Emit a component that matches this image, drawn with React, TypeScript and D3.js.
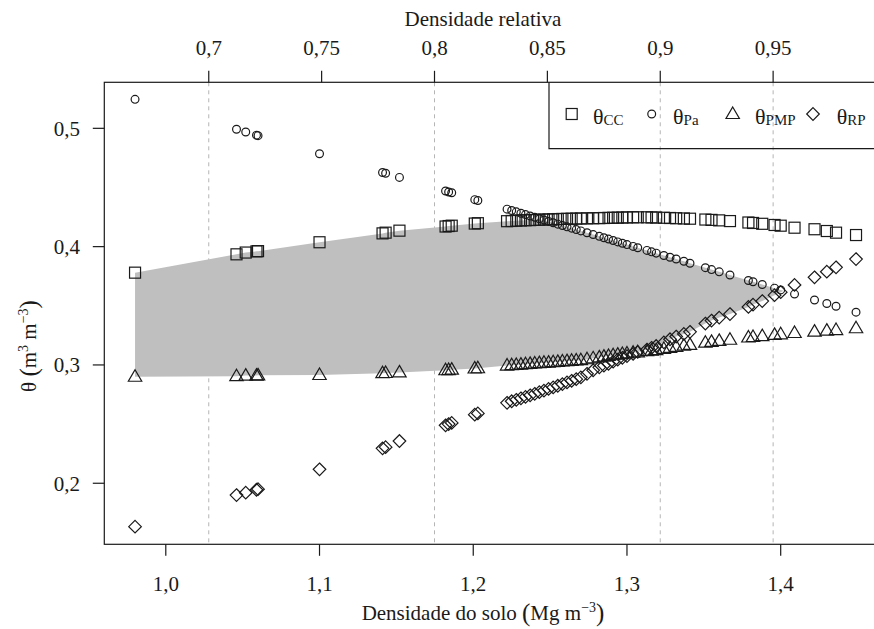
import React from 'react';
import * as d3 from 'd3';

// Soil bulk density (Mg m-3)
const densidade = [
  0.980, 1.046, 1.052, 1.059, 1.060, 1.100, 1.141, 1.143, 1.152, 1.182, 1.184, 1.186, 1.201, 1.203,
  1.222, 1.225, 1.228, 1.231, 1.234, 1.237, 1.240, 1.243, 1.246, 1.249, 1.252, 1.255, 1.258, 1.261,
  1.264, 1.267, 1.270, 1.274, 1.278, 1.282, 1.285, 1.288, 1.291, 1.294, 1.297, 1.300, 1.304, 1.307,
  1.313, 1.316, 1.319, 1.324, 1.328, 1.332, 1.337, 1.341, 1.351, 1.355, 1.360, 1.367, 1.379, 1.382,
  1.388, 1.396, 1.400, 1.409, 1.422, 1.430, 1.436, 1.449,
];
const thetaCC = [
  0.378, 0.3935, 0.395, 0.396, 0.3962, 0.4037, 0.4112, 0.4118, 0.4135, 0.417, 0.4174, 0.4177, 0.4195, 0.4198,
  0.4215, 0.4217, 0.4219, 0.4221, 0.4223, 0.4224, 0.4226, 0.4227, 0.4229, 0.423, 0.4231, 0.4233, 0.4234, 0.4235,
  0.4236, 0.4237, 0.4238, 0.4239, 0.424, 0.4241, 0.4242, 0.4243, 0.4244, 0.4245, 0.4246, 0.4247, 0.4248, 0.4248,
  0.4248, 0.4247, 0.4246, 0.4244, 0.4242, 0.424, 0.4238, 0.4236, 0.4229, 0.4226, 0.4222, 0.4216, 0.4204, 0.42,
  0.4193, 0.4183, 0.4177, 0.416, 0.4147, 0.4132, 0.4118, 0.4098,
];
const thetaPa = [
  0.5245, 0.4992, 0.4969, 0.4942, 0.4938, 0.4785, 0.4627, 0.462, 0.4585, 0.447, 0.4462, 0.4455, 0.4397, 0.439,
  0.4317, 0.4305, 0.4294, 0.4282, 0.4271, 0.4259, 0.4248, 0.4236, 0.4225, 0.4213, 0.4202, 0.419, 0.4179, 0.4167,
  0.4156, 0.4144, 0.4133, 0.4117, 0.4102, 0.4087, 0.4075, 0.4064, 0.4052, 0.404, 0.4029, 0.4017, 0.4002, 0.3991,
  0.3968, 0.3956, 0.3945, 0.3925, 0.391, 0.3895, 0.3876, 0.386, 0.3822, 0.3806, 0.3787, 0.376, 0.3714, 0.3703,
  0.368, 0.3649, 0.3634, 0.3599, 0.3549, 0.3519, 0.3496, 0.3446,
];
const thetaPMP = [
  0.290, 0.2905, 0.291, 0.291, 0.2912, 0.2915, 0.293, 0.2932, 0.2937, 0.2955, 0.2957, 0.296, 0.297, 0.2972,
  0.2995, 0.2998, 0.300, 0.3003, 0.3006, 0.3009, 0.3012, 0.3015, 0.3018, 0.302, 0.3023, 0.3026, 0.3029, 0.3032,
  0.3035, 0.3038, 0.304, 0.3048, 0.3056, 0.3064, 0.307, 0.3076, 0.3082, 0.3087, 0.3092, 0.3097, 0.3103, 0.3107,
  0.3116, 0.312, 0.3125, 0.3135, 0.3145, 0.3153, 0.3163, 0.317, 0.3188, 0.3195, 0.3203, 0.3213, 0.3232, 0.3236,
  0.3244, 0.3254, 0.3259, 0.327, 0.3282, 0.329, 0.3295, 0.331,
];
const thetaRP = [
  0.1633, 0.190, 0.192, 0.1945, 0.195, 0.2118, 0.2295, 0.2305, 0.2357, 0.249, 0.250, 0.251, 0.258, 0.259,
  0.268, 0.2693, 0.2705, 0.2718, 0.273, 0.2743, 0.2756, 0.277, 0.2783, 0.2797, 0.281, 0.2824, 0.2838, 0.2852,
  0.2866, 0.288, 0.2895, 0.2925, 0.2955, 0.298, 0.2995, 0.301, 0.3028, 0.3045, 0.306, 0.3075, 0.3093, 0.311,
  0.313, 0.3145, 0.316, 0.319, 0.3217, 0.324, 0.3262, 0.328, 0.335, 0.3375, 0.340, 0.343, 0.349, 0.351,
  0.354, 0.359, 0.3615, 0.3676, 0.3741, 0.3788, 0.3825, 0.3895,
];

const xTicks = [1.0, 1.1, 1.2, 1.3, 1.4];
const yTicks = [0.2, 0.3, 0.4, 0.5];
const relTicks = [0.7, 0.75, 0.8, 0.85, 0.9, 0.95];
const relRefLines = [0.7, 0.8, 0.9, 0.95];
const densMax = 1.4685;

const legendLabels = ['CC', 'Pa', 'PMP', 'RP'];

const W = 874;
const H = 629;
const L = 104.3, R = 886, T = 82.3, B = 544.3;
const FONT = '"Liberation Serif", "Times New Roman", serif';
const INK = '#1a1a1a';

const comma = (v: number, d?: number) => (d === undefined ? String(v) : v.toFixed(d)).replace('.', ',');

function marker(kind: number, cx: number, cy: number, key: string) {
  const common = { fill: 'none', stroke: INK, strokeWidth: 1.2 };
  if (kind === 0) return <rect key={key} x={cx - 5.5} y={cy - 5.5} width={11} height={11} {...common} />;
  if (kind === 1) return <circle key={key} cx={cx} cy={cy} r={3.9} {...common} />;
  if (kind === 2)
    return <path key={key} d={`M${cx},${cy - 7} L${cx + 6.7},${cy + 4.5} L${cx - 6.7},${cy + 4.5} Z`} {...common} />;
  return <path key={key} d={`M${cx},${cy - 6.3} L${cx + 6.3},${cy} L${cx},${cy + 6.3} L${cx - 6.3},${cy} Z`} {...common} />;
}

export default function App() {
  const x = d3.scaleLinear().domain([0.96, 1.4685]).range([L, R]);
  const y = d3.scaleLinear().domain([0.1484, 0.5389]).range([B, T]);
  const xRel = d3.scaleLinear().domain([0.96 / densMax, 1.4685 / densMax]).range([L, R]);

  // Least limiting water range: between max(PMP, RP) and min(CC, Pa)
  const rows = densidade.map((d, i) => ({
    d,
    up: Math.min(thetaCC[i], thetaPa[i]),
    lo: Math.max(thetaPMP[i], thetaRP[i]),
  }));
  const poly: { d: number; up: number; lo: number }[] = [];
  for (let i = 0; i < rows.length; i++) {
    const r = rows[i];
    if (r.up >= r.lo) {
      poly.push(r);
    } else {
      const p = rows[i - 1];
      const g0 = p.up - p.lo;
      const g1 = r.up - r.lo;
      const t = g0 / (g0 - g1);
      const dd = p.d + t * (r.d - p.d);
      const yy = p.up + t * (r.up - p.up);
      poly.push({ d: dd, up: yy, lo: yy });
      break;
    }
  }
  const area = d3
    .area<{ d: number; up: number; lo: number }>()
    .x((r) => x(r.d))
    .y0((r) => y(r.lo))
    .y1((r) => y(r.up));

  const series = [thetaCC, thetaPa, thetaPMP, thetaRP];
  const legendMarkX = [571.7, 651.7, 732.7, 813];
  const legendTextX = [593, 673, 755, 836.7];

  return (
    <svg
      width={W}
      height={H}
      style={{ position: 'absolute', left: 0, top: 0, background: '#fff' }}
      fontFamily={FONT}
    >
      <rect x={0} y={0} width={W} height={H} fill="#fff" />
      {/* reference lines of relative density */}
      {relRefLines.map((r) => (
        <line
          key={'rl' + r}
          x1={xRel(r)}
          x2={xRel(r)}
          y1={T}
          y2={B}
          stroke="#b5b5b5"
          strokeWidth={1}
          strokeDasharray="4,4"
        />
      ))}
      {/* shaded range */}
      <path d={area(poly) || ''} fill="#bfbfc0" stroke="none" />
      {/* points */}
      {series.map((s, k) => (
        <g key={'s' + k}>{s.map((v, i) => marker(k, x(densidade[i]), y(v), `m${k}-${i}`))}</g>
      ))}
      {/* box */}
      <rect x={L} y={T} width={R - L} height={B - T} fill="none" stroke={INK} strokeWidth={1.2} />
      {/* bottom axis */}
      {xTicks.map((t) => (
        <g key={'xt' + t}>
          <line x1={x(t)} x2={x(t)} y1={B} y2={B + 11.5} stroke={INK} strokeWidth={1.2} />
          <text x={x(t)} y={591} fontSize={21} textAnchor="middle" fill={INK}>
            {comma(t, 1)}
          </text>
        </g>
      ))}
      <text x={483} y={620} fontSize={21} textAnchor="middle" fill={INK}>
        Densidade do solo <tspan fontSize={25} dy={1}>(</tspan>
        <tspan dy={-1}>Mg m</tspan>
        <tspan fontSize={14} dy={-8}>−3</tspan>
        <tspan fontSize={25} dy={9}>)</tspan>
      </text>
      {/* top axis */}
      {relTicks.map((t) => (
        <g key={'rt' + t}>
          <line x1={xRel(t)} x2={xRel(t)} y1={T} y2={T - 11.5} stroke={INK} strokeWidth={1.2} />
          <text x={xRel(t)} y={55} fontSize={21} textAnchor="middle" fill={INK}>
            {comma(t)}
          </text>
        </g>
      ))}
      <text x={483} y={26} fontSize={21} textAnchor="middle" fill={INK}>
        Densidade relativa
      </text>
      {/* left axis */}
      {yTicks.map((t) => (
        <g key={'yt' + t}>
          <line x1={L} x2={L - 11.5} y1={y(t)} y2={y(t)} stroke={INK} strokeWidth={1.2} />
          <text x={80} y={y(t)} dy="0.35em" fontSize={21} textAnchor="end" fill={INK}>
            {comma(t, 1)}
          </text>
        </g>
      ))}
      <text transform="translate(36,346) rotate(-90)" fontSize={21} textAnchor="middle" fill={INK}>
        θ <tspan fontSize={25} dy={1}>(</tspan>
        <tspan dy={-1}>m</tspan>
        <tspan fontSize={14} dy={-8}>3</tspan>
        <tspan dy={8}> m</tspan>
        <tspan fontSize={14} dy={-8}>−3</tspan>
        <tspan fontSize={25} dy={9}>)</tspan>
      </text>
      {/* legend */}
      <path d={`M${W + 20},${148.7} L549,148.7 L549,${T}`} fill="none" stroke={INK} strokeWidth={1.2} />
      {legendLabels.map((lab, k) => (
        <g key={'lg' + k}>
          {marker(k, legendMarkX[k], 114, 'lm' + k)}
          <text x={legendTextX[k]} y={124} fontSize={22} fill={INK}>
            θ
            <tspan fontSize={15} dy={1}>
              {lab}
            </tspan>
          </text>
        </g>
      ))}
    </svg>
  );
}
